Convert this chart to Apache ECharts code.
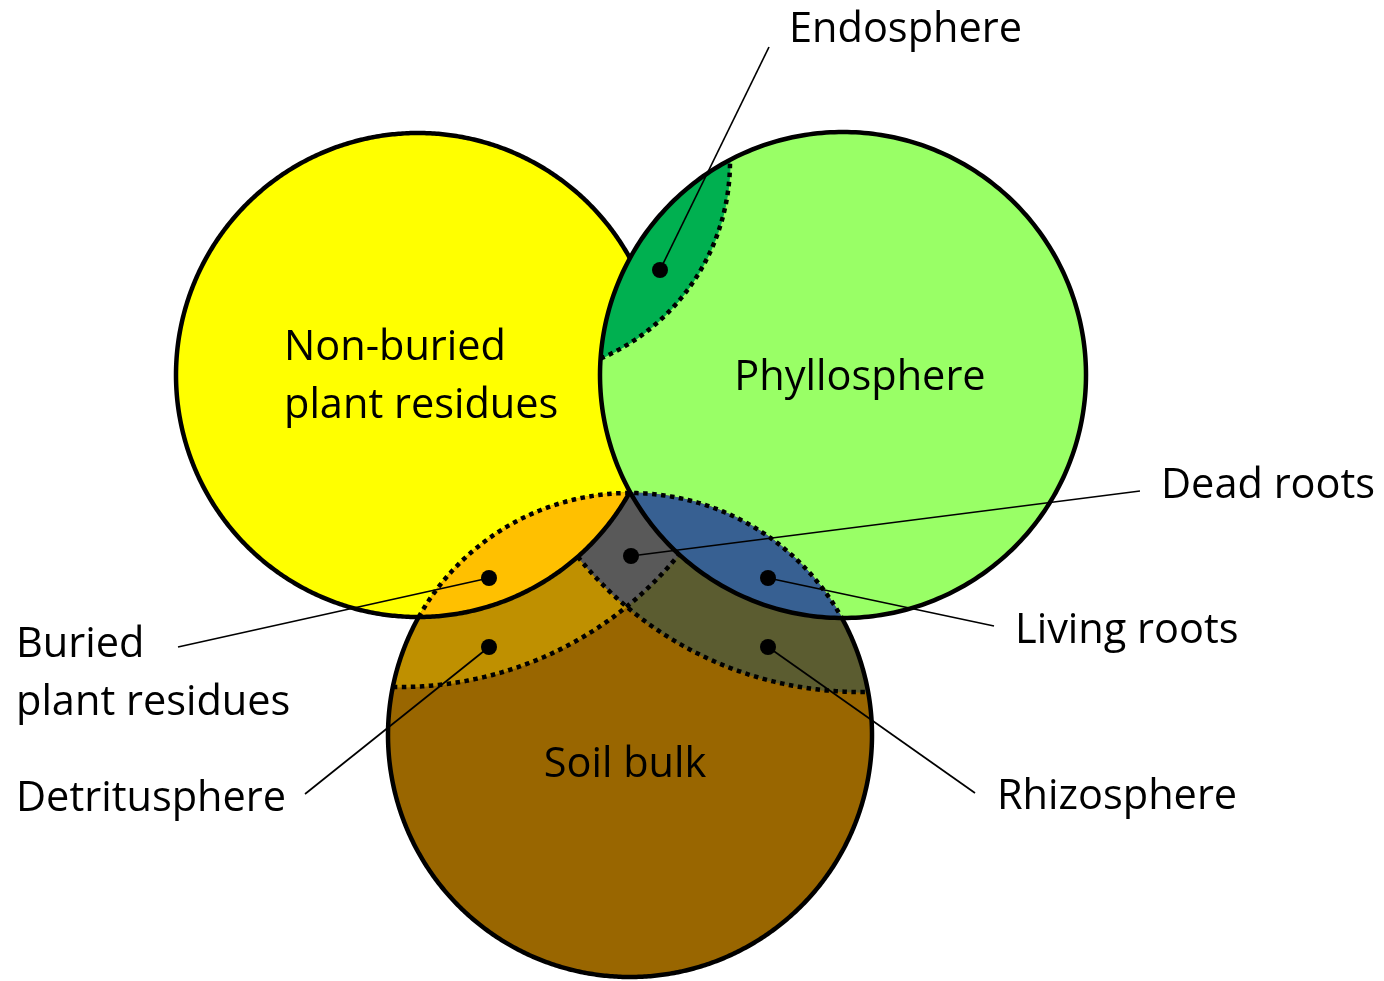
<!DOCTYPE html>
<html><head><meta charset="utf-8">
<script src="https://cdn.jsdelivr.net/npm/echarts@6/dist/echarts.min.js"></script>
<style>html,body{margin:0;padding:0;background:#fff}#c{width:1384px;height:981px}</style>
</head><body><div id="c"></div>
<script>
// ---- circles of the diagram (plane of 1384 x 981 units, y downward) ----
const circleNames = ['Non-buried', 'Phyllosphere', 'Soil bulk', 'Detritus limit', 'Rhizo limit', 'Endo limit'];
const circleX = [418, 843, 630, 400, 860, 516];
const circleY = [375, 375, 735, 327, 330, 162];
const circleR = [242, 243, 242, 360, 362, 214];

// ---- filled zones (drawn in this order) ----
const zoneNames = ['Non-buried plant residues', 'Phyllosphere', 'Endosphere', 'Soil bulk',
  'Buried plant residues', 'Living roots', 'Detritusphere', 'Rhizosphere', 'Dead roots'];
const zoneColors = ['#FFFF00', '#99FF66', '#00B050', '#996600', '#FFC000', '#376092', '#BF9000', '#5B5C30', '#595959'];

// ---- pointer (dot + leader line) for each small zone ----
const pointerNames = ['Endosphere', 'Dead roots', 'Living roots', 'Rhizosphere', 'Buried plant residues', 'Detritusphere'];
const pointerDotX = [660, 631, 768, 768, 489, 489];
const pointerDotY = [270, 556, 578, 647, 578, 647];
const pointerEndX = [769, 1140, 994, 975, 178, 305];
const pointerEndY = [47, 491, 626, 793, 647, 794];

// ---- text labels ----
const textNames = ['Non-buried\nplant residues', 'Phyllosphere', 'Soil bulk', 'Endosphere', 'Dead roots',
  'Living roots', 'Rhizosphere', 'Buried\nplant residues', 'Detritusphere'];
const textX = [284, 860, 625, 789, 1161, 1015, 997, 16, 16];
const textY = [348, 378, 765, 30, 486, 631, 797, 645, 799];
const textAnchor = ['left', 'center', 'center', 'left', 'left', 'left', 'left', 'left', 'left'];

// ---------------- geometry helpers ----------------
const C = circleNames.map((n, i) => ({ x: circleX[i], y: circleY[i], r: circleR[i] }));
const [Y, G, B, DL, DR, DE] = C;

function inter(c1, c2) {
  const dx = c2.x - c1.x, dy = c2.y - c1.y, d = Math.hypot(dx, dy);
  const a = (c1.r * c1.r - c2.r * c2.r + d * d) / (2 * d);
  const h = Math.sqrt(Math.max(0, c1.r * c1.r - a * a));
  const mx = c1.x + a * dx / d, my = c1.y + a * dy / d;
  return [[mx + h * dy / d, my - h * dx / d], [mx - h * dy / d, my + h * dx / d]];
}
const lower = p => (p[0][1] > p[1][1] ? p[0] : p[1]);
const upper = p => (p[0][1] < p[1][1] ? p[0] : p[1]);
const leftP = p => (p[0][0] < p[1][0] ? p[0] : p[1]);
const rightP = p => (p[0][0] > p[1][0] ? p[0] : p[1]);

function arc(c, p, q, long) {
  const a1 = Math.atan2(p[1] - c.y, p[0] - c.x), a2 = Math.atan2(q[1] - c.y, q[0] - c.x);
  let d = a2 - a1;
  while (d > Math.PI) d -= 2 * Math.PI;
  while (d <= -Math.PI) d += 2 * Math.PI;
  if (long) d = d > 0 ? d - 2 * Math.PI : d + 2 * Math.PI;
  const n = Math.max(8, Math.ceil(Math.abs(d) * c.r / 2));
  const out = [];
  for (let i = 0; i <= n; i++) {
    const a = a1 + d * i / n;
    out.push([c.x + c.r * Math.cos(a), c.y + c.r * Math.sin(a)]);
  }
  return out;
}
function full(c) {
  const out = [], n = 360;
  for (let i = 0; i < n; i++) { const a = 2 * Math.PI * i / n; out.push([c.x + c.r * Math.cos(a), c.y + c.r * Math.sin(a)]); }
  return out;
}

const YG = inter(Y, G), YGt = upper(YG), YGb = lower(YG);
const YB = inter(Y, B), YBl = leftP(YB), YBr = rightP(YB);
const GB = inter(G, B), GBl = leftP(GB), GBr = rightP(GB);
const GDE = inter(G, DE);
const YDR = lower(inter(Y, DR));
const GDL = lower(inter(G, DL));
const DLDR = lower(inter(DL, DR));
const DLB = leftP(inter(DL, B));
const DRB = rightP(inter(DR, B));

const zonePts = [
  full(Y),
  full(G),
  [...arc(G, GDE[0], GDE[1]), ...arc(DE, GDE[1], GDE[0])],
  full(B),
  [...arc(Y, YBl, YBr), ...arc(B, YBr, YBl)],
  [...arc(G, GBl, GBr), ...arc(B, GBr, GBl)],
  [...arc(Y, YBl, YDR), ...arc(DR, YDR, DLDR), ...arc(DL, DLDR, DLB), ...arc(B, DLB, YBl)],
  [...arc(G, GBr, GDL), ...arc(DL, GDL, DLDR), ...arc(DR, DLDR, DRB), ...arc(B, DRB, GBr)],
  [...arc(Y, YDR, YGb), ...arc(G, YGb, GDL), ...arc(DL, GDL, DLDR), ...arc(DR, DLDR, YDR)]
];

// outlines: [points, dotted?, closed?]
const outlines = [
  [arc(DE, GDE[0], GDE[1]), true, false],
  [arc(DL, DLB, GDL), true, false],
  [arc(DR, YDR, DRB), true, false],
  [arc(B, YBl, GBr), true, false],
  [arc(Y, YGt, YGb, true), false, false],
  [full(G), false, true],
  [arc(B, YBl, GBr, true), false, false]
];

const chart = echarts.init(document.getElementById('c'), null, { renderer: 'canvas' });
const FONT = '41.5px "Open Sans", "Noto Sans", sans-serif';

chart.setOption({
  animation: false,
  backgroundColor: '#ffffff',
  grid: { left: 0, right: 0, top: 0, bottom: 0 },
  xAxis: { type: 'value', min: 0, max: 1384, show: false },
  yAxis: { type: 'value', min: 0, max: 981, inverse: true, show: false },
  series: [
    {
      type: 'custom', name: 'zones', z: 1, silent: true, clip: false,
      data: zoneNames.map((n, i) => ({ name: n, value: [0, 0] })),
      renderItem: (params, api) => {
        const i = params.dataIndex;
        const pts = zonePts[i].map(p => api.coord(p));
        return { type: 'polygon', shape: { points: pts },
          style: { fill: zoneColors[i], stroke: zoneColors[i], lineWidth: 1 } };
      }
    },
    {
      type: 'custom', name: 'outlines', z: 2, silent: true, clip: false,
      data: outlines.map(() => ({ value: [0, 0] })),
      renderItem: (params, api) => {
        const o = outlines[params.dataIndex];
        const pts = o[0].map(p => api.coord(p));
        return { type: o[2] ? 'polygon' : 'polyline', shape: { points: pts },
          style: { fill: null, stroke: '#000', lineWidth: o[1] ? 4.5 : 4.5,
            lineDash: o[1] ? [4.5, 4.5] : null, lineCap: 'butt', lineJoin: 'round' } };
      }
    },
    {
      type: 'custom', name: 'leaders', z: 3, silent: true, clip: false,
      data: pointerNames.map((n, i) => ({ name: n, value: [pointerDotX[i], pointerDotY[i]] })),
      renderItem: (params, api) => {
        const i = params.dataIndex;
        const a = api.coord([pointerDotX[i], pointerDotY[i]]);
        const b = api.coord([pointerEndX[i], pointerEndY[i]]);
        return { type: 'line', shape: { x1: a[0], y1: a[1], x2: b[0], y2: b[1] },
          style: { stroke: '#000', lineWidth: 1.7 } };
      }
    },
    {
      type: 'scatter', name: 'dots', z: 4, silent: true,
      symbol: 'circle', symbolSize: 16,
      itemStyle: { color: '#000', opacity: 1 },
      data: pointerNames.map((n, i) => ({ name: n, value: [pointerDotX[i], pointerDotY[i]] }))
    },
    {
      type: 'custom', name: 'texts', z: 5, silent: true, clip: false,
      data: textNames.map((n, i) => ({ name: n, value: [textX[i], textY[i]] })),
      renderItem: (params, api) => {
        const i = params.dataIndex;
        const lines = textNames[i].split('\n');
        return { type: 'group', children: lines.map((t, k) => {
          const p = api.coord([textX[i], textY[i] + k * 58]);
          return { type: 'text', x: p[0], y: p[1],
            style: { text: t, fill: '#000', font: FONT, textAlign: textAnchor[i], textVerticalAlign: 'middle' } };
        }) };
      }
    }
  ]
});
</script></body></html>
